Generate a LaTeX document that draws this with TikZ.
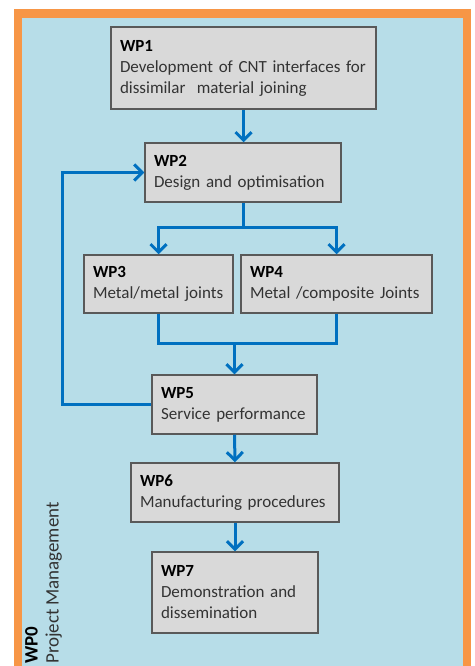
\documentclass[tikz,border=0pt]{standalone}
\usepackage{fontspec}
\setmainfont{Carlito}[WordSpace=0.8]
\usetikzlibrary{arrows.meta}
\definecolor{bgblue}{HTML}{B7DDE8}
\definecolor{frameorange}{HTML}{F79646}
\definecolor{boxfill}{HTML}{D9D9D9}
\definecolor{boxline}{HTML}{595959}
\definecolor{arrowblue}{HTML}{0070C0}
\definecolor{bodytext}{HTML}{333333}
\begin{document}
\begin{tikzpicture}[x=1pt,y=-1pt,
  wpbox/.style={draw=boxline, line width=1.5pt, fill=boxfill, align=left,
    inner xsep=9pt, inner ysep=0pt, font=\fontsize{17}{21}\selectfont, text=bodytext},
  conn/.style={draw=arrowblue, line width=3pt},
  arr/.style={conn, -{Straight Barb[length=8pt,width=16pt]}},
]
\useasboundingbox (0,0) rectangle (474,666);
\clip (0,0) rectangle (474,666);
\fill[white] (0,0) rectangle (474,666);
\fill[frameorange] (14,9) rectangle (471,700);
\fill[bgblue] (22,18) rectangle (463,700);

\node[wpbox, minimum width=265pt, minimum height=82pt, text width=247pt] (wp1) at (243.5,68)
  {\textbf{\color{black}WP1}\\Development of CNT interfaces for\\dissimilar\ \ material joining};
\node[wpbox, minimum width=196pt, minimum height=59pt, text width=178pt] (wp2) at (243,172.5)
  {\textbf{\color{black}WP2}\\Design and optimisation};
\node[wpbox, minimum width=149pt, minimum height=58pt, text width=131pt] (wp3) at (158.5,284)
  {\textbf{\color{black}WP3}\\Metal/metal joints};
\node[wpbox, minimum width=191pt, minimum height=58pt, text width=173pt] (wp4) at (336.5,284)
  {\textbf{\color{black}WP4}\\Metal /composite Joints};
\node[wpbox, minimum width=165pt, minimum height=59pt, text width=147pt] (wp5) at (234.5,404.5)
  {\textbf{\color{black}WP5}\\Service performance};
\node[wpbox, minimum width=208pt, minimum height=59pt, text width=190pt] (wp6) at (235,492.5)
  {\textbf{\color{black}WP6}\\Manufacturing procedures};
\node[wpbox, minimum width=166pt, minimum height=81pt, text width=148pt] (wp7) at (235,592.5)
  {\textbf{\color{black}WP7}\\Demonstration and\\dissemination};

\node[rotate=90, anchor=north west, align=left, inner sep=0pt,
  font=\fontsize{19}{21}\selectfont, text=bodytext] (wp0) at (25,664)
  {\textbf{\color{black}WP0}\\Project Management};

\coordinate (split) at (243,227);
\coordinate (merge) at (234.5,343);
\coordinate (fb) at (62,0);

\draw[arr] (wp1.south) -- (wp1.south |- wp2.north);
\draw[conn] (wp2.south) -- (split);
\draw[arr] (split) -| (wp3.north);
\draw[arr] (split) -| (wp4.north);
\draw[conn] (wp3.south) -- (wp3.south |- merge) -- (wp4.south |- merge) -- (wp4.south);
\draw[arr] (merge) -- (wp5.north);
\draw[arr] (wp5.west) -| (fb |- wp2.west) -- (wp2.west);
\draw[arr] (wp5.south) -- (wp6.north);
\draw[arr] (wp6.south) -- (wp7.north);
\end{tikzpicture}
\end{document}
